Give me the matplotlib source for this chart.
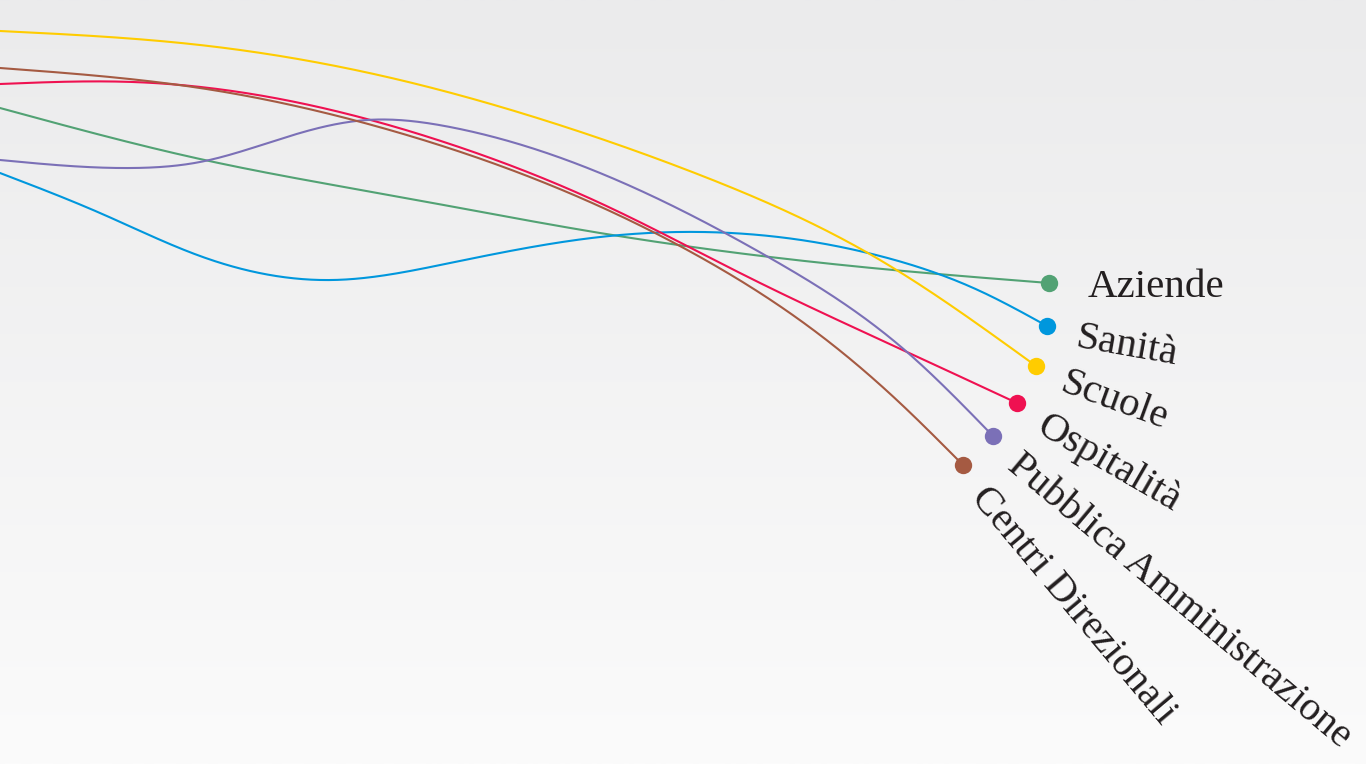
import numpy as np
import matplotlib
matplotlib.use("Agg")
import matplotlib.pyplot as plt

# ---- data (in chart units) ----
labels = ["Aziende", "Sanità", "Scuole", "Ospitalità", "Pubblica Amministrazione", "Centri Direzionali"]
colors = ["#52a274", "#0097dd", "#ffcc00", "#ef1151", "#7b70b7", "#a55a42"]
label_angles = [0, 10, 20, 30, 40, 50]

aziende_x = [0, 200, 400, 600, 770, 893, 1049]
aziende_y = [108, 159, 197, 233, 257, 270, 283]

sanita_x = [0, 100, 200, 333, 450, 600, 747, 880, 980, 1047]
sanita_y = [173, 213, 256, 280, 263, 237, 234, 256, 291, 326]

scuole_x = [0, 200, 400, 550, 700, 880, 1036]
scuole_y = [31, 45, 80, 122, 175, 260, 366]

ospitalita_x = [0, 133, 300, 450, 600, 750, 907, 1017]
ospitalita_y = [84, 82, 103, 144, 203, 278, 352, 403]

pa_x = [0, 133, 200, 300, 367, 450, 600, 770, 907, 993]
pa_y = [160, 168, 162, 133, 120, 127, 173, 258, 352, 436]

centri_x = [0, 200, 400, 550, 700, 820, 900, 963]
centri_y = [68, 88, 133, 185, 257, 335, 403, 465]

series_x = [aziende_x, sanita_x, scuole_x, ospitalita_x, pa_x, centri_x]
series_y = [aziende_y, sanita_y, scuole_y, ospitalita_y, pa_y, centri_y]


def natural_spline(xs, ys, n=600):
    x = np.asarray(xs, float)
    y = np.asarray(ys, float)
    k = len(x)
    h = np.diff(x)
    A = np.zeros((k, k))
    r = np.zeros(k)
    A[0, 0] = A[-1, -1] = 1
    for i in range(1, k - 1):
        A[i, i - 1] = h[i - 1]
        A[i, i] = 2 * (h[i - 1] + h[i])
        A[i, i + 1] = h[i]
        r[i] = 3 * ((y[i + 1] - y[i]) / h[i] - (y[i] - y[i - 1]) / h[i - 1])
    c = np.linalg.solve(A, r)
    b = (y[1:] - y[:-1]) / h - h * (2 * c[:-1] + c[1:]) / 3
    d = (c[1:] - c[:-1]) / (3 * h)
    xx = np.linspace(x[0], x[-1], n)
    idx = np.clip(np.searchsorted(x, xx) - 1, 0, k - 2)
    t = xx - x[idx]
    yy = y[idx] + b[idx] * t + c[idx] * t ** 2 + d[idx] * t ** 3
    return xx, yy


fig = plt.figure(figsize=(13.66, 7.64), dpi=100)
ax = fig.add_axes([0, 0, 1, 1])
ax.set_xlim(0, 1366)
ax.set_ylim(764, 0)
ax.axis("off")

# background gradient
grad = np.linspace(0, 1, 256)[:, None]
c_top = np.array([0xeb, 0xeb, 0xec]) / 255
c_bot = np.array([0xfb, 0xfb, 0xfb]) / 255
img = c_top[None, None, :] * (1 - grad[:, :, None]) + c_bot[None, None, :] * grad[:, :, None]
ax.imshow(img, extent=[0, 1366, 764, 0], aspect="auto", zorder=0, interpolation="bilinear")

for xs, ys, c in zip(series_x, series_y, colors):
    sx, sy = natural_spline(xs, ys)
    ax.plot(sx, sy, color=c, lw=1.5, zorder=2, solid_capstyle="round")
    ax.plot([xs[-1]], [ys[-1]], "o", color=c, ms=12.5, mec="none", zorder=3)

for i, (lab, ang, xs, ys) in enumerate(zip(labels, label_angles, series_x, series_y)):
    a = 39 if i == 0 else 30   # along the label direction (px)
    b = 14 if i == 0 else 16   # below (px)
    th = np.deg2rad(ang)
    ox = a * np.cos(th) - b * np.sin(th)
    oy = a * np.sin(th) + b * np.cos(th)
    ax.annotate(lab, xy=(xs[-1], ys[-1]), xytext=(ox * 0.72, -oy * 0.72),
                textcoords="offset points", rotation=-ang, rotation_mode="anchor",
                ha="left", va="baseline", fontsize=29.5, color="#231f20",
                family="Liberation Serif", zorder=4)

fig.savefig("out.png", dpi=100)
